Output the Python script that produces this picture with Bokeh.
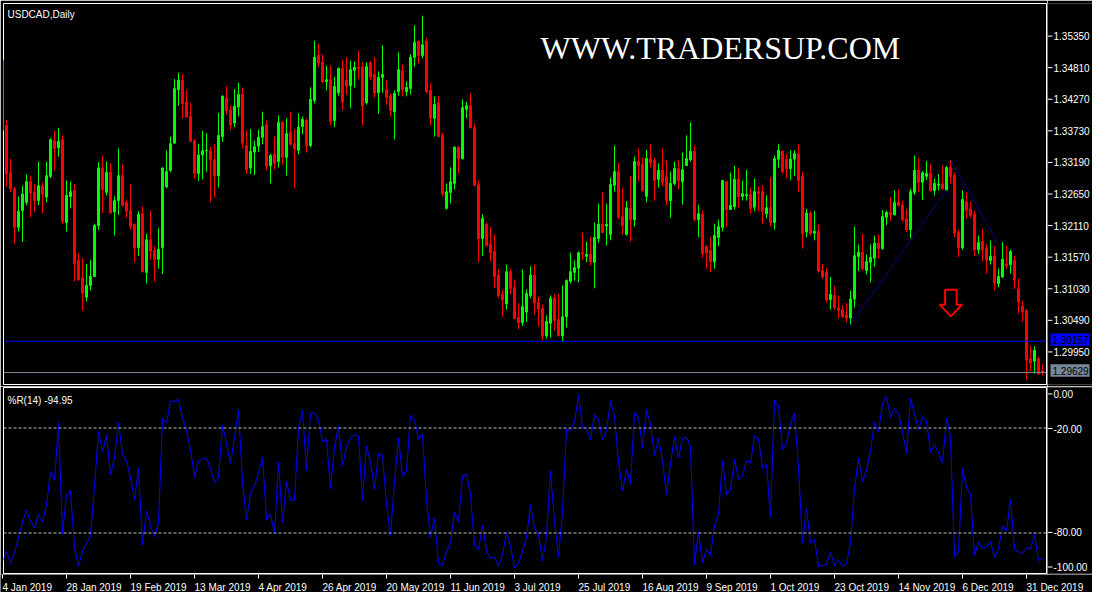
import numpy as np
from bokeh.plotting import figure
from bokeh.layouts import column, row
from bokeh.models import Span, Label, ColumnDataSource, Range1d
from bokeh.embed import file_html
from bokeh.resources import INLINE

# ---------------- data (USDCAD daily, 4 Jan 2019 .. early Jan 2020)
OPEN = [1.3490, 1.3380, 1.3300, 1.3273, 1.3208, 1.3236, 1.3250, 1.3285, 1.3267, 1.3253,
        1.3278, 1.3259, 1.3294, 1.3354, 1.3342, 1.3356, 1.3216, 1.3260, 1.3270, 1.3152,
        1.3123, 1.3090, 1.3110, 1.3125, 1.3211, 1.3308, 1.3267, 1.3301, 1.3234, 1.3253,
        1.3295, 1.3250, 1.3236, 1.3213, 1.3174, 1.3231, 1.3132, 1.3187, 1.3169, 1.3154,
        1.3174, 1.3276, 1.3304, 1.3350, 1.3440, 1.3456, 1.3419, 1.3395, 1.3354, 1.3299,
        1.3330, 1.3337, 1.3337, 1.3322, 1.3295, 1.3361, 1.3426, 1.3405, 1.3384, 1.3411,
        1.3432, 1.3346, 1.3308, 1.3335, 1.3345, 1.3360, 1.3381, 1.3312, 1.3331, 1.3319,
        1.3385, 1.3326, 1.3368, 1.3349, 1.3338, 1.3378, 1.3388, 1.3346, 1.3422, 1.3498,
        1.3486, 1.3454, 1.3457, 1.3388, 1.3435, 1.3476, 1.3456, 1.3447, 1.3473, 1.3478,
        1.3478, 1.3418, 1.3486, 1.3466, 1.3435, 1.3461, 1.3440, 1.3430, 1.3403, 1.3437,
        1.3472, 1.3437, 1.3442, 1.3495, 1.3522, 1.3498, 1.3522, 1.3439, 1.3392, 1.3418,
        1.3363, 1.3240, 1.3267, 1.3282, 1.3343, 1.3324, 1.3407, 1.3413, 1.3376, 1.3280,
        1.3189, 1.3213, 1.3179, 1.3167, 1.3127, 1.3095, 1.3079, 1.3133, 1.3106, 1.3056,
        1.3047, 1.3065, 1.3093, 1.3127, 1.3081, 1.3071, 1.3025, 1.3046, 1.3088, 1.3052,
        1.3025, 1.3057, 1.3117, 1.3132, 1.3139, 1.3165, 1.3159, 1.3162, 1.3149, 1.3189,
        1.3213, 1.3210, 1.3196, 1.3279, 1.3302, 1.3226, 1.3196, 1.3240, 1.3221, 1.3319,
        1.3314, 1.3260, 1.3324, 1.3321, 1.3289, 1.3304, 1.3294, 1.3253, 1.3282, 1.3307,
        1.3285, 1.3312, 1.3322, 1.3336, 1.3221, 1.3230, 1.3176, 1.3169, 1.3150, 1.3191,
        1.3208, 1.3285, 1.3238, 1.3243, 1.3289, 1.3260, 1.3261, 1.3263, 1.3242, 1.3268,
        1.3268, 1.3231, 1.3241, 1.3216, 1.3323, 1.3336, 1.3322, 1.3307, 1.3323, 1.3332,
        1.3294, 1.3200, 1.3232, 1.3198, 1.3201, 1.3135, 1.3132, 1.3086, 1.3093, 1.3072,
        1.3069, 1.3060, 1.3055, 1.3087, 1.3159, 1.3166, 1.3135, 1.3149, 1.3156, 1.3181,
        1.3172, 1.3225, 1.3233, 1.3229, 1.3250, 1.3245, 1.3222, 1.3204, 1.3267, 1.3304,
        1.3284, 1.3294, 1.3299, 1.3270, 1.3279, 1.3281, 1.3271, 1.3309, 1.3296, 1.3200,
        1.3173, 1.3251, 1.3239, 1.3230, 1.3170, 1.3184, 1.3173, 1.3152, 1.3159, 1.3113,
        1.3124, 1.3146, 1.3145, 1.3152, 1.3104, 1.3075, 1.3068, 1.2986, 1.2982, 1.2986,
        1.2966]
HIGH = [1.3500, 1.3389, 1.3323, 1.3276, 1.3260, 1.3278, 1.3297, 1.3295, 1.3281, 1.3319,
        1.3284, 1.3319, 1.3358, 1.3371, 1.3376, 1.3363, 1.3287, 1.3285, 1.3281, 1.3165,
        1.3156, 1.3146, 1.3153, 1.3214, 1.3318, 1.3329, 1.3319, 1.3316, 1.3260, 1.3341,
        1.3314, 1.3255, 1.3281, 1.3215, 1.3235, 1.3243, 1.3197, 1.3236, 1.3176, 1.3207,
        1.3309, 1.3338, 1.3361, 1.3458, 1.3469, 1.3467, 1.3440, 1.3418, 1.3356, 1.3349,
        1.3371, 1.3367, 1.3344, 1.3348, 1.3401, 1.3431, 1.3446, 1.3413, 1.3441, 1.3452,
        1.3444, 1.3372, 1.3374, 1.3354, 1.3373, 1.3403, 1.3388, 1.3332, 1.3361, 1.3397,
        1.3387, 1.3392, 1.3403, 1.3373, 1.3400, 1.3395, 1.3392, 1.3444, 1.3523, 1.3518,
        1.3500, 1.3481, 1.3481, 1.3462, 1.3478, 1.3491, 1.3495, 1.3489, 1.3488, 1.3506,
        1.3486, 1.3486, 1.3488, 1.3495, 1.3471, 1.3515, 1.3457, 1.3434, 1.3439, 1.3503,
        1.3483, 1.3454, 1.3500, 1.3549, 1.3523, 1.3565, 1.3528, 1.3451, 1.3429, 1.3430,
        1.3368, 1.3282, 1.3309, 1.3345, 1.3345, 1.3424, 1.3420, 1.3434, 1.3383, 1.3287,
        1.3230, 1.3216, 1.3208, 1.3196, 1.3138, 1.3103, 1.3145, 1.3138, 1.3120, 1.3080,
        1.3137, 1.3103, 1.3142, 1.3145, 1.3091, 1.3078, 1.3059, 1.3093, 1.3095, 1.3096,
        1.3110, 1.3120, 1.3165, 1.3152, 1.3167, 1.3199, 1.3184, 1.3192, 1.3216, 1.3248,
        1.3267, 1.3248, 1.3292, 1.3346, 1.3316, 1.3275, 1.3252, 1.3294, 1.3327, 1.3341,
        1.3326, 1.3339, 1.3348, 1.3326, 1.3316, 1.3341, 1.3321, 1.3302, 1.3319, 1.3321,
        1.3334, 1.3363, 1.3385, 1.3346, 1.3246, 1.3236, 1.3177, 1.3192, 1.3214, 1.3221,
        1.3287, 1.3285, 1.3300, 1.3312, 1.3309, 1.3287, 1.3305, 1.3275, 1.3290, 1.3277,
        1.3279, 1.3262, 1.3292, 1.3329, 1.3349, 1.3338, 1.3332, 1.3338, 1.3338, 1.3348,
        1.3301, 1.3239, 1.3235, 1.3235, 1.3213, 1.3146, 1.3139, 1.3124, 1.3109, 1.3093,
        1.3077, 1.3080, 1.3101, 1.3209, 1.3179, 1.3197, 1.3162, 1.3179, 1.3194, 1.3196,
        1.3237, 1.3236, 1.3259, 1.3270, 1.3272, 1.3253, 1.3239, 1.3273, 1.3329, 1.3325,
        1.3303, 1.3320, 1.3315, 1.3290, 1.3298, 1.3312, 1.3311, 1.3322, 1.3301, 1.3204,
        1.3270, 1.3267, 1.3251, 1.3236, 1.3194, 1.3205, 1.3180, 1.3186, 1.3176, 1.3138,
        1.3183, 1.3177, 1.3170, 1.3159, 1.3121, 1.3084, 1.3069, 1.3008, 1.3007, 1.2990,
        1.2977]
LOW = [1.3366, 1.3277, 1.3267, 1.3180, 1.3201, 1.3183, 1.3245, 1.3225, 1.3234, 1.3245,
       1.3231, 1.3250, 1.3291, 1.3304, 1.3327, 1.3214, 1.3201, 1.3240, 1.3117, 1.3118,
       1.3067, 1.3083, 1.3101, 1.3124, 1.3204, 1.3232, 1.3262, 1.3231, 1.3194, 1.3229,
       1.3243, 1.3224, 1.3204, 1.3149, 1.3160, 1.3132, 1.3113, 1.3153, 1.3117, 1.3138,
       1.3129, 1.3274, 1.3301, 1.3349, 1.3413, 1.3391, 1.3393, 1.3352, 1.3290, 1.3286,
       1.3289, 1.3301, 1.3250, 1.3258, 1.3275, 1.3352, 1.3399, 1.3372, 1.3377, 1.3395,
       1.3341, 1.3298, 1.3298, 1.3296, 1.3335, 1.3348, 1.3304, 1.3282, 1.3305, 1.3309,
       1.3313, 1.3295, 1.3346, 1.3274, 1.3331, 1.3365, 1.3334, 1.3343, 1.3417, 1.3478,
       1.3451, 1.3439, 1.3380, 1.3377, 1.3430, 1.3405, 1.3432, 1.3409, 1.3444, 1.3459,
       1.3380, 1.3415, 1.3456, 1.3427, 1.3400, 1.3435, 1.3415, 1.3395, 1.3356, 1.3430,
       1.3429, 1.3429, 1.3432, 1.3479, 1.3484, 1.3493, 1.3434, 1.3380, 1.3361, 1.3360,
       1.3260, 1.3238, 1.3248, 1.3272, 1.3299, 1.3322, 1.3392, 1.3375, 1.3277, 1.3149,
       1.3160, 1.3176, 1.3150, 1.3105, 1.3089, 1.3057, 1.3069, 1.3095, 1.3054, 1.3036,
       1.3042, 1.3048, 1.3088, 1.3061, 1.3041, 1.3017, 1.3020, 1.3022, 1.3034, 1.3024,
       1.3015, 1.3039, 1.3113, 1.3118, 1.3115, 1.3152, 1.3149, 1.3144, 1.3105, 1.3182,
       1.3198, 1.3177, 1.3186, 1.3268, 1.3221, 1.3196, 1.3194, 1.3184, 1.3209, 1.3285,
       1.3268, 1.3250, 1.3309, 1.3253, 1.3275, 1.3277, 1.3245, 1.3224, 1.3279, 1.3272,
       1.3246, 1.3312, 1.3319, 1.3218, 1.3191, 1.3157, 1.3138, 1.3132, 1.3138, 1.3176,
       1.3201, 1.3209, 1.3238, 1.3238, 1.3241, 1.3253, 1.3253, 1.3231, 1.3235, 1.3235,
       1.3213, 1.3223, 1.3209, 1.3204, 1.3309, 1.3298, 1.3291, 1.3288, 1.3295, 1.3268,
       1.3172, 1.3191, 1.3194, 1.3186, 1.3132, 1.3121, 1.3081, 1.3069, 1.3069, 1.3054,
       1.3055, 1.3048, 1.3043, 1.3073, 1.3134, 1.3135, 1.3128, 1.3115, 1.3141, 1.3155,
       1.3170, 1.3212, 1.3219, 1.3228, 1.3243, 1.3217, 1.3200, 1.3189, 1.3263, 1.3268,
       1.3254, 1.3288, 1.3268, 1.3262, 1.3270, 1.3271, 1.3271, 1.3281, 1.3191, 1.3158,
       1.3170, 1.3222, 1.3224, 1.3160, 1.3163, 1.3151, 1.3130, 1.3145, 1.3101, 1.3107,
       1.3123, 1.3138, 1.3130, 1.3104, 1.3063, 1.3049, 1.2951, 1.2966, 1.2961, 1.2959,
       1.2958]
CLOSE = [1.3371, 1.3298, 1.3273, 1.3208, 1.3235, 1.3264, 1.3285, 1.3266, 1.3253, 1.3278,
         1.3264, 1.3295, 1.3356, 1.3341, 1.3353, 1.3218, 1.3262, 1.3268, 1.3147, 1.3120,
         1.3097, 1.3110, 1.3125, 1.3211, 1.3308, 1.3272, 1.3301, 1.3232, 1.3253, 1.3295,
         1.3245, 1.3235, 1.3209, 1.3174, 1.3230, 1.3133, 1.3187, 1.3168, 1.3154, 1.3171,
         1.3308, 1.3302, 1.3349, 1.3442, 1.3456, 1.3417, 1.3394, 1.3353, 1.3299, 1.3330,
         1.3337, 1.3338, 1.3322, 1.3295, 1.3363, 1.3429, 1.3405, 1.3381, 1.3412, 1.3432,
         1.3350, 1.3305, 1.3336, 1.3344, 1.3360, 1.3378, 1.3311, 1.3329, 1.3316, 1.3385,
         1.3326, 1.3366, 1.3348, 1.3340, 1.3377, 1.3390, 1.3346, 1.3424, 1.3495, 1.3485,
         1.3454, 1.3457, 1.3387, 1.3446, 1.3476, 1.3420, 1.3446, 1.3474, 1.3478, 1.3476,
         1.3413, 1.3479, 1.3462, 1.3435, 1.3461, 1.3466, 1.3427, 1.3405, 1.3434, 1.3474,
         1.3440, 1.3444, 1.3495, 1.3520, 1.3498, 1.3516, 1.3437, 1.3393, 1.3415, 1.3361,
         1.3265, 1.3268, 1.3285, 1.3343, 1.3324, 1.3410, 1.3413, 1.3376, 1.3279, 1.3189,
         1.3223, 1.3177, 1.3165, 1.3125, 1.3093, 1.3086, 1.3133, 1.3105, 1.3054, 1.3047,
         1.3074, 1.3096, 1.3127, 1.3080, 1.3070, 1.3025, 1.3049, 1.3088, 1.3051, 1.3025,
         1.3057, 1.3118, 1.3133, 1.3140, 1.3165, 1.3163, 1.3162, 1.3150, 1.3191, 1.3213,
         1.3199, 1.3213, 1.3280, 1.3302, 1.3225, 1.3211, 1.3241, 1.3221, 1.3319, 1.3312,
         1.3270, 1.3324, 1.3317, 1.3287, 1.3304, 1.3284, 1.3253, 1.3282, 1.3307, 1.3287,
         1.3305, 1.3324, 1.3336, 1.3221, 1.3231, 1.3164, 1.3165, 1.3150, 1.3194, 1.3209,
         1.3287, 1.3238, 1.3245, 1.3289, 1.3260, 1.3265, 1.3263, 1.3240, 1.3268, 1.3265,
         1.3235, 1.3241, 1.3216, 1.3324, 1.3338, 1.3302, 1.3307, 1.3323, 1.3332, 1.3287,
         1.3197, 1.3232, 1.3197, 1.3201, 1.3134, 1.3124, 1.3086, 1.3095, 1.3072, 1.3068,
         1.3057, 1.3055, 1.3087, 1.3160, 1.3166, 1.3138, 1.3150, 1.3157, 1.3181, 1.3172,
         1.3226, 1.3233, 1.3229, 1.3250, 1.3245, 1.3221, 1.3204, 1.3268, 1.3304, 1.3284,
         1.3300, 1.3299, 1.3270, 1.3282, 1.3281, 1.3273, 1.3309, 1.3294, 1.3198, 1.3173,
         1.3255, 1.3237, 1.3228, 1.3170, 1.3182, 1.3170, 1.3153, 1.3159, 1.3114, 1.3125,
         1.3154, 1.3143, 1.3167, 1.3119, 1.3082, 1.3066, 1.2984, 1.2979, 1.3000, 1.2961,
         1.2963]

DATE_BARS = [0, 16, 32, 48, 64, 80, 96, 112, 128, 144, 160, 176, 192, 208, 224, 240, 256]
DATE_LABELS = ["4 Jan 2019", "28 Jan 2019", "19 Feb 2019", "13 Mar 2019", "4 Apr 2019",
               "26 Apr 2019", "20 May 2019", "11 Jun 2019", "3 Jul 2019", "25 Jul 2019",
               "16 Aug 2019", "9 Sep 2019", "1 Oct 2019", "23 Oct 2019", "14 Nov 2019",
               "6 Dec 2019", "31 Dec 2019"]
PRICE_TICKS = [1.35350, 1.34810, 1.34270, 1.33730, 1.33190, 1.32650,
               1.32110, 1.31570, 1.31030, 1.30490, 1.29950]
WR_TICKS = [0, -20, -80, -100]
WR_LEVELS = [-20, -80]
WR_PERIOD = 14
WR_TITLE = "%R(14) -94.95"
CHART_TITLE = "USDCAD,Daily"
WATERMARK = "WWW.TRADERSUP.COM"

HLINE_PRICE = 1.30157
BID_PRICE = 1.29629
TREND_UP_BARS = [212, 236]
TREND_UP_PRICES = [1.30434, 1.32701]
TREND_DN_BARS = [237, 248.8]
TREND_DN_PRICES = [1.33219, 1.31828]
ARROW_BAR = 237.1
ARROW_PRICE = 1.3080

# ---------------- layout (pixels)
W = 1092
W_CHART = 1047          # chart figure: frame x 3..1046
W_AXIS = W - W_CHART    # right price-scale strip
H_MAIN = 386            # frame y 3..384
H_IND = 188             # frame y 387..573
H_DATE = 18             # y 574..592
PX_BAR = 4.0            # pixels per bar
PX_PRICE = 32 / 0.0054  # pixels per price unit (one grid step = 32 px)
WR_TOP, WR_BOT = 3.16, -103.16   # %R values at the indicator frame edges
FRAME_H1 = 384 - 3
FRAME_H2 = H_IND - 2
PX_WR = FRAME_H2 / (WR_TOP - WR_BOT)
FONT = "Liberation Sans"
FS = "10px"


def price_at(y):         # page y -> price (1.35350 sits at y=33)
    return 1.3535 - (y - 33) / PX_PRICE


def bar_at(x):           # page x -> bar index (bar i centred at x = 2 + 4 i)
    return (x - 2) / PX_BAR


def base(fig):
    fig.background_fill_color = "black"
    fig.border_fill_color = "black"
    fig.xgrid.visible = False
    fig.ygrid.visible = False
    return fig


def chart_fig(height, yr, top, bottom):
    f = figure(width=W_CHART, height=height, x_range=Range1d(bar_at(3), bar_at(1046)),
               y_range=yr, output_backend="svg", toolbar_location=None,
               x_axis_location=None, y_axis_location=None)
    base(f)
    f.outline_line_color = "white"
    f.outline_line_width = 1
    f.min_border_left = 3
    f.min_border_right = 1
    f.min_border_top = top
    f.min_border_bottom = bottom
    return f


def strip_fig(width, height, xr, yr):
    f = figure(width=width, height=height, x_range=xr, y_range=yr,
               output_backend="svg", toolbar_location=None,
               x_axis_location=None, y_axis_location=None)
    base(f)
    f.outline_line_color = None
    f.min_border_left = f.min_border_right = f.min_border_top = f.min_border_bottom = 0
    return f


o = np.array(OPEN); h = np.array(HIGH); l = np.array(LOW); c = np.array(CLOSE)
n = len(c)
x = np.arange(n)
cols = np.where(c >= o, "#00ff00", "#ff0000")
src = ColumnDataSource(dict(x=x, h=h, l=l, top=np.maximum(o, c), bot=np.minimum(o, c), col=cols))

# ---------------- main price panel
p1 = chart_fig(H_MAIN, Range1d(price_at(384), price_at(3)), 3, 2)

p1.add_layout(Span(location=HLINE_PRICE, dimension="width", line_color="#0000ff", line_width=1))
p1.add_layout(Span(location=BID_PRICE, dimension="width", line_color="#778899", line_width=1))

p1.segment(x0="x", y0="l", x1="x", y1="h", source=src, line_color="col", line_width=1)
p1.vbar(x="x", width=0.5, top="top", bottom="bot", source=src,
        fill_color="col", line_color="col", line_width=1)

p1.line(TREND_UP_BARS, TREND_UP_PRICES, line_color="#0000ff", line_width=1, line_dash="1 1")
p1.line(TREND_DN_BARS, TREND_DN_PRICES, line_color="#0000ff", line_width=1, line_dash="1 1")

shape = [(-5.8, -13.5), (5.8, -13.5), (5.8, 1.5), (11.2, 1.5), (0, 13.2),
         (-11.2, 1.5), (-5.8, 1.5)]
p1.patch([ARROW_BAR + dx / PX_BAR for dx, dy in shape],
         [ARROW_PRICE - dy / PX_PRICE for dx, dy in shape],
         fill_color=None, line_color="#ff0000", line_width=2)

p1.add_layout(Label(x=4, y=FRAME_H1 - 11, x_units="screen", y_units="screen",
                    text=CHART_TITLE, text_baseline="alphabetic", text_color="white",
                    text_font=FONT, text_font_size=FS))
p1.add_layout(Label(x=537, y=FRAME_H1 - 44, x_units="screen", y_units="screen",
                    text=WATERMARK, text_baseline="alphabetic", text_color="white",
                    text_font="Liberation Serif", text_font_size="32px"))

# price scale strip on the right of the main panel
a1 = strip_fig(W_AXIS, H_MAIN, Range1d(0, W_AXIS), Range1d(price_at(H_MAIN), price_at(0)))
a1.segment(x0=0, x1=5, y0=PRICE_TICKS, y1=PRICE_TICKS, line_color="white", line_width=1)
a1.text(x=6, y=PRICE_TICKS, text=[f"{v:.5f}" for v in PRICE_TICKS],
        text_baseline="middle", text_align="left", text_color="white",
        text_font={"value": FONT}, text_font_size={"value": FS})
for pr, bg in [(HLINE_PRICE, "#0000ff"), (BID_PRICE, "#778899")]:
    a1.quad(left=3, right=42, top=pr + 6.5 / PX_PRICE, bottom=pr - 6.0 / PX_PRICE,
            fill_color=bg, line_color=None)
    a1.text(x=5, y=[pr], text=[f"{pr:.5f}"], text_baseline="middle", text_align="left",
            text_color="black", text_font={"value": FONT}, text_font_size={"value": FS})

# ---------------- Williams %R panel
wr = np.empty(n)
for i in range(n):
    s = max(0, i - WR_PERIOD + 1)
    hh = h[s:i + 1].max()
    ll = l[s:i + 1].min()
    wr[i] = -100.0 * (hh - c[i]) / (hh - ll)

p2 = chart_fig(H_IND, Range1d(WR_BOT, WR_TOP), 1, 1)
p2.x_range = p1.x_range
for lv in WR_LEVELS:
    p2.add_layout(Span(location=lv, dimension="width", line_color="#c0c0c0",
                       line_width=1, line_dash="3 2"))
p2.line(x, wr, line_color="#0000ff", line_width=1)
p2.add_layout(Label(x=4, y=FRAME_H2 - 13, x_units="screen", y_units="screen", text=WR_TITLE,
                    text_baseline="alphabetic", text_color="white", text_font=FONT,
                    text_font_size=FS))

a2 = strip_fig(W_AXIS, H_IND, Range1d(0, W_AXIS),
               Range1d(WR_BOT - 1 / PX_WR, WR_TOP + 1 / PX_WR))
a2.segment(x0=0, x1=5, y0=WR_TICKS, y1=WR_TICKS, line_color="white", line_width=1)
a2.text(x=6, y=WR_TICKS, text=[f"{v:.2f}" for v in WR_TICKS],
        text_baseline="middle", text_align="left", text_color="white",
        text_font={"value": FONT}, text_font_size={"value": FS})

# ---------------- date scale strip
p3 = strip_fig(W, H_DATE, Range1d(bar_at(0), bar_at(W)), Range1d(0, H_DATE))
p3.segment(x0=DATE_BARS, x1=DATE_BARS, y0=H_DATE, y1=H_DATE - 4, line_color="white", line_width=1)
p3.text(x=DATE_BARS, y=5, text=DATE_LABELS, text_baseline="alphabetic", text_align="left",
        text_color="white", text_font={"value": FONT}, text_font_size={"value": FS})

layout = column(row(p1, a1, spacing=0), row(p2, a2, spacing=0), p3, spacing=0)
open("out.html", "w").write(file_html(layout, INLINE))
